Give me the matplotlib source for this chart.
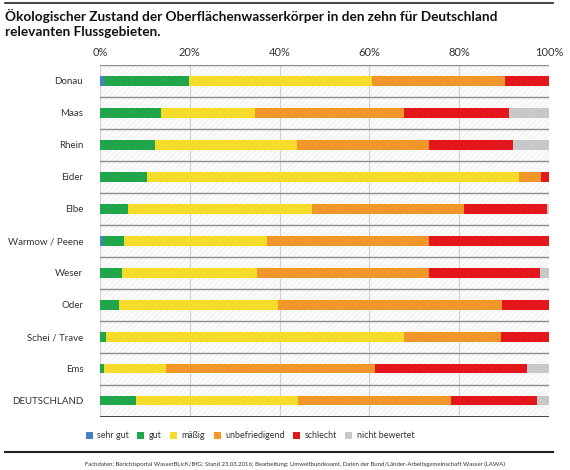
import matplotlib.pyplot as plt
from matplotlib.patches import Patch, Rectangle
from matplotlib.lines import Line2D

plt.rcParams['font.family'] = ['Lato', 'DejaVu Sans']
plt.rcParams['hatch.linewidth'] = 0.6
plt.rcParams['hatch.color'] = '#eeeeee'

# Flussgebiete (von oben nach unten)
regions = ['Donau', 'Maas', 'Rhein', 'Eider', 'Elbe', 'Warmow / Peene',
           'Weser', 'Oder', 'Schei / Trave', 'Ems', 'DEUTSCHLAND']

# Anteile in % je Zustandsklasse
sehr_gut = [0.8, 0.0, 0.0, 0.0, 0.0, 0.6, 0.0, 0.0, 0.0, 0.0, 0.0]
gut = [19.0, 13.6, 12.3, 10.4, 6.2, 4.7, 5.0, 4.3, 1.3, 0.8, 8.1]
maessig = [40.8, 21.0, 31.6, 82.9, 41.1, 32.0, 29.9, 35.4, 66.4, 13.8, 36.1]
unbefriedigend = [29.7, 33.0, 29.3, 5.0, 33.7, 35.9, 38.4, 49.8, 21.7, 46.7, 33.9]
schlecht = [9.7, 23.5, 18.8, 1.7, 18.5, 26.8, 24.6, 10.5, 10.6, 33.9, 19.2]
nicht_bewertet = [0.0, 8.9, 8.0, 0.0, 0.5, 0.0, 2.1, 0.0, 0.0, 4.8, 2.7]

classes = ['sehr gut', 'gut', 'mäßig', 'unbefriedigend', 'schlecht', 'nicht bewertet']
colors = ['#4a7fc1', '#1fa64a', '#f5dc2a', '#f0962a', '#e3171b', '#c8c8c8']
series = [sehr_gut, gut, maessig, unbefriedigend, schlecht, nicht_bewertet]

ticks = [0, 20, 40, 60, 80, 100]
tick_labels = ['0%', '20%', '40%', '60%', '80%', '100%']

fig = plt.figure(figsize=(5.7, 4.7), dpi=100)
ax = fig.add_axes([0.1754, 0.1138, 0.7878, 0.7485])

# hatched background
ax.add_patch(Rectangle((0, -0.5), 100, len(regions), facecolor='#fbfbfb',
                       hatch='//////', edgecolor='#eeeeee', lw=0, zorder=0))

y = list(range(len(regions)))
left = [0.0] * len(regions)
for vals, col in zip(series, colors):
    ax.barh(y, vals, left=left, height=0.31, color=col, zorder=3)
    left = [l + v for l, v in zip(left, vals)]

ax.set_xlim(0, 100)
ax.set_ylim(len(regions) - 0.5, -0.5)

# vertical grid
for t in ticks:
    ax.axvline(t, color='#d0d0d0', lw=0.8, zorder=1)
# row separators
for i in range(len(regions)):
    ax.axhline(i - 0.5, color='#8c8c8c', lw=1.0, zorder=2)
ax.axhline(len(regions) - 0.5, color='#333333', lw=2.0, zorder=4)

for s in ax.spines.values():
    s.set_visible(False)

ax.xaxis.tick_top()
ax.set_xticks(ticks)
ax.set_xticklabels(tick_labels, fontsize=8, color='#333333')
ax.tick_params(axis='x', length=0, pad=5)
ax.set_yticks(y)
ax.set_yticklabels(regions, fontsize=7, color='#333333')
ax.tick_params(axis='y', length=0, pad=12)

# top rule and title
fig.add_artist(Line2D([5 / 570, 553 / 570], [1 - 3 / 470, 1 - 3 / 470],
                      color='#222222', lw=1.2, transform=fig.transFigure))
fig.text(5 / 570, 1 - 9 / 470,
         'Ökologischer Zustand der Oberflächenwasserkörper in den zehn für Deutschland\n'
         'relevanten Flussgebieten.',
         fontsize=9.8, fontweight='bold', color='#111111', va='top', ha='left',
         linespacing=1.3)

# legend
handles = [Patch(facecolor=c, edgecolor='none') for c in colors]
fig.legend(handles, classes, ncol=6, loc='center',
           bbox_to_anchor=(250 / 570, 1 - 436 / 470), frameon=False,
           fontsize=6.4, handlelength=0.8, handleheight=0.8, handletextpad=0.5,
           columnspacing=0.95, labelcolor='#333333')

# bottom rule and source
fig.add_artist(Line2D([5 / 570, 553 / 570], [1 - 452 / 470, 1 - 452 / 470],
                      color='#222222', lw=1.5, transform=fig.transFigure))
fig.text(505 / 570, 1 - 464 / 470,
         'Fachdaten: Berichtsportal WasserBLIcK/BfG; Stand 23.03.2016; Bearbeitung: Umweltbundesamt, '
         'Daten der Bund/Länder-Arbeitsgemeinschaft Wasser (LAWA)',
         fontsize=4.3, color='#333333', ha='right', va='center')

fig.savefig('out.png', dpi=100)
